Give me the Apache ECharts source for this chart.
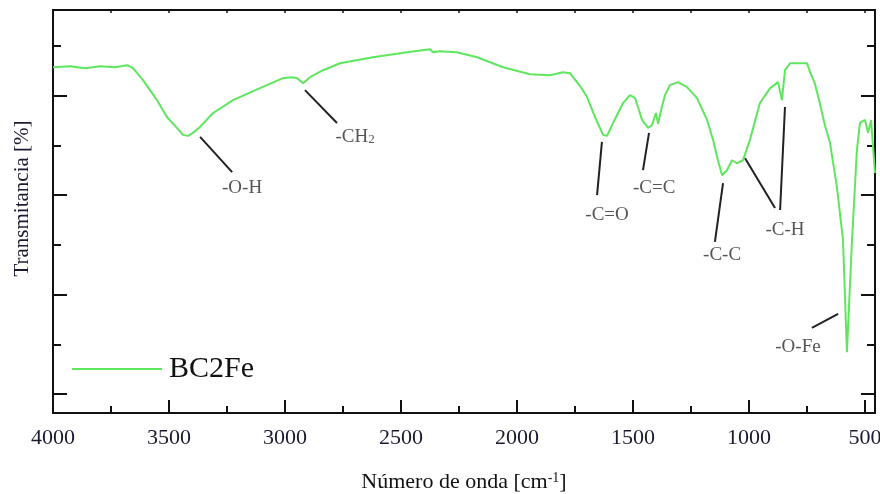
<!DOCTYPE html>
<html>
<head>
<meta charset="utf-8">
<script src="https://cdn.jsdelivr.net/npm/echarts@6/dist/echarts.min.js"></script>
<style>
html,body{margin:0;padding:0;background:#fff;}
#chart{width:880px;height:494px;}
</style>
</head>
<body>
<div id="chart"></div>
<script>
// FTIR spectrum of BC2Fe: wavenumber (cm-1) vs. transmittance (arbitrary scale)
var wavenumber = [4000,3927,3862,3797,3733,3681,3655,3612,3552,3509,3466,3440,3418,3397,3366,3310,3224,3108,3009,2970,2948,2922,2892,2836,2763,2621,2474,2375,2362,2332,2259,2172,2060,1944,1858,1802,1772,1728,1698,1664,1629,1612,1586,1543,1513,1491,1461,1435,1418,1401,1392,1379,1362,1341,1306,1267,1224,1181,1155,1134,1116,1095,1073,1052,1026,996,953,909,875,858,845,823,750,737,716,694,672,651,621,595,578,556,535,522,500,487,474,457];
var transmittance = [65.7,65.9,65.5,65.9,65.7,66.1,65.5,63.1,59.1,55.7,53.5,52.1,51.9,52.5,53.7,56.5,59.1,61.5,63.5,63.7,63.5,62.5,63.7,65.1,66.5,67.7,68.7,69.3,68.7,68.9,68.7,67.7,65.7,64.3,64.1,64.7,64.5,61.9,59.7,55.7,52.1,51.9,54.5,58.5,60.1,59.5,55.1,53.5,54.1,56.5,54.3,57.1,60.1,62.1,62.7,61.7,59.5,55.1,51.1,47.0,44.0,45.0,47.0,46.4,47.0,51.1,58.5,61.5,62.7,59.1,65.1,66.5,66.5,64.7,62.4,58.3,53.9,50.5,41.6,31.0,8.4,31.0,49.0,54.5,55.1,52.5,55.1,44.4];

// axis ticks
var xMajorTicks = [4000,3500,3000,2500,2000,1500,1000,500];
var xMinorTicks = [3750,3250,2750,2250,1750,1250,750];
var xTopTicks = [3750,3500,3250,3000,2750,2500,2250,2000,1750,1500,1250,1000,750,500];
var yMajorTicks = [0,20,40,60];
var yMinorTicks = [10,30,50,70];

// band assignments: label, label anchor [wn, T], leader lines [[wn,T],[wn,T]]
var bandLabels = ['-O-H','-CH{s|2}','-C=O','-C=C','-C-C','-C-H','-O-Fe'];
var bandLabelPos = [[3185,41.4],[2698,51.7],[1612,36.0],[1409,41.4],[1116,27.9],[845,33.0],[789,9.4]];
var bandLeaders = [
  [[3366,51.7],[3228,44.6]],
  [[2914,61.1],[2776,54.5]],
  [[1634,50.7],[1655,40.0]],
  [[1431,52.5],[1457,45.0]],
  [[1112,42.4],[1147,30.6]],
  [[1017,47.4],[888,37.4]],
  [[845,57.7],[866,37.0]],
  [[729,13.3],[616,16.1]]
];

var FONT = "'Liberation Serif','Times New Roman',serif";
var TXT = '#1a1a30';

var spectrum = wavenumber.map(function (w, i) { return [w, transmittance[i]]; });

function baseX(extra) {
  return Object.assign({
    type: 'value', inverse: true, min: 457, max: 4000,
    splitLine: {show: false},
    axisLine: {show: false, onZero: false},
    axisLabel: {show: false},
    axisTick: {show: false}
  }, extra);
}
function baseY(extra) {
  return Object.assign({
    type: 'value', min: -3.8, max: 77.2,
    splitLine: {show: false},
    axisLine: {show: false, onZero: false},
    axisLabel: {show: false},
    axisTick: {show: false}
  }, extra);
}
var solidAxisLine = {show: true, onZero: false, lineStyle: {color: '#111', width: 2}};

var chart = echarts.init(document.getElementById('chart'), null, {renderer: 'canvas', width: 880, height: 494});
chart.setOption({
  animation: false,
  backgroundColor: '#fff',
  grid: {left: 53, right: 5, top: 10, bottom: 81, containLabel: false, outerBoundsMode: 'none'},
  legend: {
    data: ['BC2Fe'],
    left: 67, top: 349,
    icon: 'rect', itemWidth: 90, itemHeight: 2, itemGap: 0,
    textStyle: {fontFamily: FONT, fontSize: 30, color: '#111', padding: [0, 0, 0, 2]}
  },
  xAxis: [
    baseX({
      position: 'bottom',
      axisLine: solidAxisLine,
      axisTick: {show: true, inside: true, length: 13, customValues: xMajorTicks, lineStyle: {color: '#111', width: 2}},
      axisLabel: {show: true, customValues: xMajorTicks, margin: 14, fontFamily: FONT, fontSize: 22, color: TXT,
        formatter: function (v) { return String(v); }},
      name: 'Número de onda [cm{sup|-1}]',
      nameLocation: 'middle', nameGap: 58,
      nameTextStyle: {fontFamily: FONT, fontSize: 22, color: '#111',
        rich: {sup: {fontFamily: FONT, fontSize: 14, color: '#111', verticalAlign: 'top', padding: [0, 0, 8, 0]}}}
    }),
    baseX({
      position: 'bottom',
      axisTick: {show: true, inside: true, length: 7, customValues: xMinorTicks, lineStyle: {color: '#111', width: 2}}
    }),
    baseX({
      position: 'top',
      axisLine: solidAxisLine,
      axisTick: {show: true, inside: true, length: 3, customValues: xTopTicks, lineStyle: {color: '#111', width: 1.5}}
    })
  ],
  yAxis: [
    baseY({
      position: 'left',
      axisLine: solidAxisLine,
      axisTick: {show: true, inside: true, length: 14, customValues: yMajorTicks, lineStyle: {color: '#111', width: 2}},
      name: 'Transmitancia [%]',
      nameLocation: 'middle', nameGap: 20,
      nameTextStyle: {fontFamily: FONT, fontSize: 21, color: TXT, padding: [0, 0, 0, 26]}
    }),
    baseY({
      position: 'left',
      axisTick: {show: true, inside: true, length: 8, customValues: yMinorTicks, lineStyle: {color: '#111', width: 2}}
    }),
    baseY({
      position: 'right',
      axisLine: solidAxisLine,
      axisTick: {show: true, inside: true, length: 14, customValues: yMajorTicks, lineStyle: {color: '#111', width: 2}}
    }),
    baseY({
      position: 'right',
      axisTick: {show: true, inside: true, length: 8, customValues: yMinorTicks, lineStyle: {color: '#111', width: 2}}
    })
  ],
  series: [
    {
      name: 'BC2Fe',
      type: 'line',
      xAxisIndex: 0, yAxisIndex: 0,
      data: spectrum,
      showSymbol: false,
      symbol: 'none',
      color: '#5ee65e',
      lineStyle: {color: '#5ee65e', width: 2},
      silent: true
    },
    {
      name: 'bands',
      type: 'scatter',
      xAxisIndex: 0, yAxisIndex: 0,
      symbolSize: 0,
      silent: true,
      data: bandLabels.map(function (t, i) { return {name: t, value: bandLabelPos[i]}; }),
      label: {
        show: true, position: 'inside', formatter: '{b}',
        fontFamily: FONT, fontSize: 19, color: '#2a2a2a',
        rich: {s: {fontFamily: FONT, fontSize: 13, color: '#2a2a2a', verticalAlign: 'bottom', padding: [6, 0, 0, 0]}}
      },
      markLine: {
        silent: true,
        symbol: ['none', 'none'],
        label: {show: false},
        lineStyle: {color: '#222', width: 2, type: 'solid'},
        data: bandLeaders.map(function (p) { return [{coord: p[0]}, {coord: p[1]}]; })
      }
    }
  ]
});
</script>
</body>
</html>
